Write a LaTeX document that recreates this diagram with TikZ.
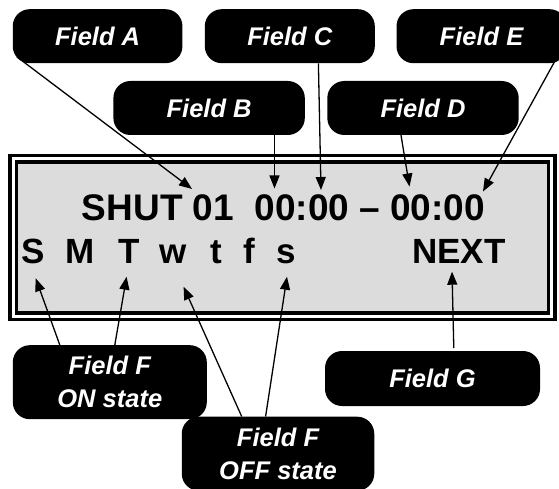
\documentclass[tikz,border=0pt]{standalone}
\usepackage{fontspec}
\setmainfont{Liberation Sans}
\usepackage{xcolor}
\usetikzlibrary{arrows.meta,calc}
\definecolor{lcdgray}{HTML}{DCDCDC}

\begin{document}
\begin{tikzpicture}[
  x=1pt, y=-1pt,
  tag/.style={rectangle, rounded corners=17pt, fill=black, text=white, align=center, font=\fontsize{25.5}{33}\selectfont\bfseries\itshape, minimum width=170pt, minimum height=54pt, inner sep=0pt},
  lcdframe/.style={rectangle, draw=black, fill=lcdgray, line width=3.3pt, double=white, double distance=3.3pt, minimum width=538.3pt, minimum height=157.5pt, inner sep=0pt},
  lcd/.style={inner sep=0pt, anchor=base, font=\fontsize{35}{40}\selectfont\bfseries},
  arrow/.style={-{Triangle[length=13pt,width=10pt]}, line width=1.3pt}
]
\useasboundingbox (0,0) rectangle (559,489);
\clip (0,0) rectangle (559,489);

% callouts above the display
\node[tag, minimum width=169.7pt] (fielda) at (97.6,36.2) {Field A};
\node[tag] (fieldc) at (289.8,36.2) {Field C};
\node[tag] (fielde) at (481.5,36.2) {Field E};
\node[tag, minimum width=191.4pt] (fieldb) at (209.1,108) {Field B};
\node[tag, minimum width=191.4pt] (fieldd) at (423,108) {Field D};

% the display
\node[lcdframe] (lcd) at (282.5,237.6) {};
\node[lcd, font=\fontsize{37}{40}\selectfont\bfseries] (line1) at (283.5,220) {SHUT 01\ \ 00:00 – 00:00};
\foreach \d/\x in {S/33.3, M/80, T/128.7, w/173, t/216, f/249, s/286}
  \node[lcd] (day\d) at (\x,263.3) {\d};
\node[lcd] (next) at (459,263.3) {NEXT};

% callouts below the display
\node[tag, minimum width=194pt, minimum height=74pt] (fieldfon) at (109.8,382.2) {Field F\\ON state};
\node[tag, minimum width=192.5pt, minimum height=74pt] (fieldfoff) at (278,453.7) {Field F\\OFF state};
\node[tag, minimum width=215pt, minimum height=55pt] (fieldg) at (432.5,378.5) {Field G};

% arrow tips on the display
\coordinate (tipa) at (192,189);
\coordinate (tipb) at (274.5,188.5);
\coordinate (tipc) at (321,190);
\coordinate (tipd) at (409.5,186.5);
\coordinate (tipe) at (483,191.5);
\coordinate (tipsun) at (35.7,278.3);
\coordinate (tiptue) at (126.6,276.7);
\coordinate (tipwed) at (183.6,286.7);
\coordinate (tipsat) at (287,276.7);
\coordinate (tipnext) at (452,271.7);

\draw[arrow] ($(fielda.south west)+(4.3,-6.6)$) -- (tipa);
\draw[arrow] ($(fieldb.south)+(65.4,0)$) -- (tipb);
\draw[arrow] ($(fieldc.south)+(28.6,0)$) -- (tipc);
\draw[arrow] ($(fieldd.south)+(-22,0)$) -- (tipd);
\draw[arrow] ($(fielde.south)+(73,-1.6)$) -- (tipe);
\draw[arrow] ($(fieldfon.north)+(-50,0)$) -- (tipsun);
\draw[arrow] ($(fieldfon.north)+(5,0)$) -- (tiptue);
\draw[arrow] ($(fieldfoff.north)+(-36.3,0)$) -- (tipwed);
\draw[arrow] ($(fieldfoff.north)+(-12.4,0)$) -- (tipsat);
\draw[arrow] ($(fieldg.north)+(21.3,-2.7)$) -- (tipnext);

\end{tikzpicture}
\end{document}
